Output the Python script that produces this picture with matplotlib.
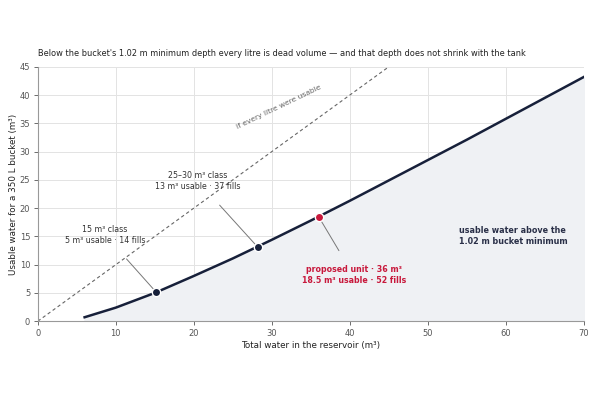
import matplotlib
matplotlib.use("Agg")
import matplotlib.pyplot as plt
import numpy as np

# total water in reservoir (m3) vs usable water above the bucket minimum (m3)
total = [6, 10, 15, 20, 25, 30, 35, 40, 45, 50, 55, 60, 65, 70]
usable = [0.7, 2.4, 5.0, 8.0, 11.1, 14.4, 17.8, 21.3, 24.9, 28.5, 32.1, 35.8, 39.5, 43.2]

ideal_x = [0, 45]
ideal_y = [0, 45]

class_x = [15.2, 28.2]
class_y = [5.1, 13.1]
class_labels = ["15 m³ class\n5 m³ usable · 14 fills",
                "25–30 m³ class\n13 m³ usable · 37 fills"]
proposed_x = 36
proposed_y = 18.5
proposed_label = "proposed unit · 36 m³\n18.5 m³ usable · 52 fills"

navy = "#17203a"
red = "#c8193c"
grey = "#666666"

fig, ax = plt.subplots(figsize=(6, 4), dpi=100)
fig.subplots_adjust(left=0.063, right=0.973, top=0.833, bottom=0.197)

ax.fill_between(total, usable, 0, color="#eff1f4", zorder=1)
ax.plot(ideal_x, ideal_y, color=grey, lw=0.8, ls=(0, (3, 2.5)), zorder=2)
ax.plot(total, usable, color=navy, lw=1.8, zorder=3)

ax.scatter(class_x, class_y, s=36, color=navy, edgecolor="white", linewidth=1.0, zorder=5)
ax.scatter([proposed_x], [proposed_y], s=36, color=red, edgecolor="white", linewidth=1.0, zorder=5)

ax.text(30.9, 37.8, "if every litre were usable", rotation=25.7, ha="center", va="center",
        fontsize=5.4, color=grey)

ax.annotate(class_labels[0], xy=(class_x[0], class_y[0]), xytext=(8.6, 15.3),
            ha="center", va="center", fontsize=5.7, color="#333333", linespacing=1.3,
            arrowprops=dict(arrowstyle="-", color="#777777", lw=0.7, shrinkA=11, shrinkB=3))
ax.annotate(class_labels[1], xy=(class_x[1], class_y[1]), xytext=(20.5, 24.8),
            ha="center", va="center", fontsize=5.7, color="#333333", linespacing=1.3,
            arrowprops=dict(arrowstyle="-", color="#777777", lw=0.7, shrinkA=11, shrinkB=3))
ax.annotate(proposed_label, xy=(proposed_x, proposed_y), xytext=(40.5, 8.1),
            ha="center", va="center", fontsize=5.7, color=red, fontweight="bold", linespacing=1.3,
            arrowprops=dict(arrowstyle="-", color="#777777", lw=0.7, shrinkA=10, shrinkB=3))

ax.text(54, 15.1, "usable water above the\n1.02 m bucket minimum", ha="left", va="center",
        fontsize=5.8, color="#2a3048", fontweight="bold", linespacing=1.3)

ax.set_xlim(0, 70)
ax.set_ylim(0, 45)
ax.set_xticks(np.arange(0, 71, 10))
ax.set_yticks(np.arange(0, 46, 5))
ax.grid(True, color="#e3e3e3", lw=0.7)
ax.set_axisbelow(True)
for s in ["top", "right"]:
    ax.spines[s].set_visible(False)
for s in ["left", "bottom"]:
    ax.spines[s].set_color("#999999")
    ax.spines[s].set_linewidth(0.8)
ax.tick_params(labelsize=6, colors="#555555", length=3, width=0.6, pad=2.5)

ax.set_xlabel("Total water in the reservoir (m³)", fontsize=6.3, color="#222222", labelpad=2)
ax.set_ylabel("Usable water for a 350 L bucket (m³)", fontsize=6.3, color="#222222")
ax.yaxis.set_label_coords(-0.037, 0.5)
ax.set_title("Below the bucket's 1.02 m minimum depth every litre is dead volume — and that depth does not shrink with the tank",
             fontsize=5.95, color="#222222", loc="left", pad=8)

fig.savefig("out.png", dpi=100)
